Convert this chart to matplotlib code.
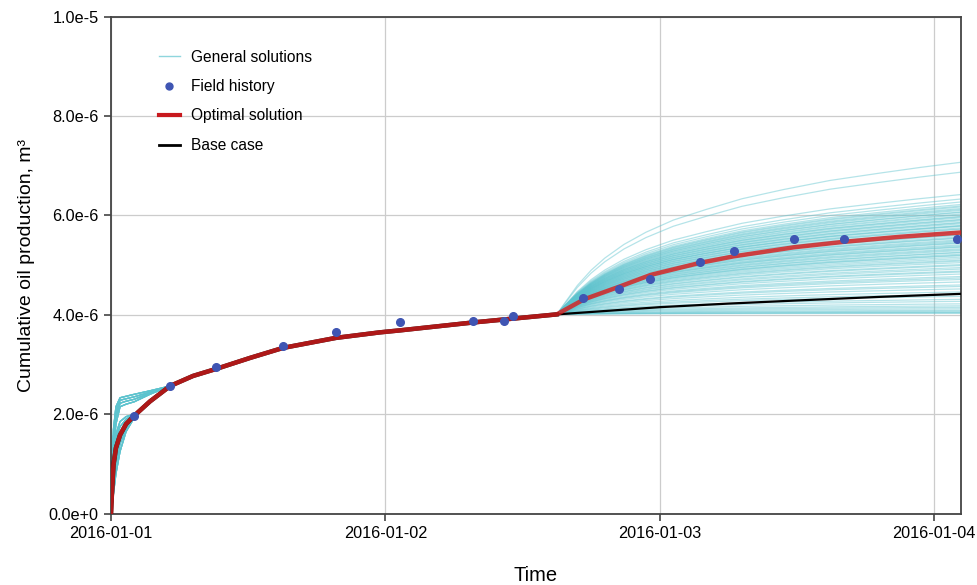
import numpy as np
import matplotlib.pyplot as plt
from matplotlib.lines import Line2D
from matplotlib.ticker import FuncFormatter

plt.rcParams['font.family'] = ['Liberation Sans', 'DejaVu Sans']

# Time in days from 2016-01-01, production in units of 1e-6 m3
date_ticks = [0, 1, 2, 3]
date_labels = ['2016-01-01', '2016-01-02', '2016-01-03', '2016-01-04']

# Field history
hist_days = [0.085, 0.216, 0.384, 0.627, 0.819, 1.055, 1.321, 1.432, 1.467,
             1.722, 1.852, 1.966, 2.146, 2.271, 2.488, 2.671, 3.083]
hist_prod = [1.97, 2.574, 2.951, 3.368, 3.662, 3.847, 3.883, 3.883, 3.978,
             4.334, 4.518, 4.729, 5.065, 5.277, 5.523, 5.523, 5.523]

# Optimal solution (matched history up to the kink, then forecast)
opt_hist_days = [0, 0.004, 0.009, 0.018, 0.033, 0.055, 0.085, 0.142, 0.216,
                 0.299, 0.383, 0.507, 0.627, 0.820, 0.980, 1.053, 1.323, 1.625]
opt_hist_prod = [0, 0.473, 0.977, 1.319, 1.581, 1.803, 1.970, 2.256, 2.568,
                 2.769, 2.910, 3.132, 3.333, 3.535, 3.646, 3.686, 3.847, 4.008]
opt_fore_days = [1.724, 1.851, 1.968, 2.147, 2.270, 2.489, 2.671, 2.875, 3.098]
opt_fore_prod = [4.310, 4.562, 4.804, 5.045, 5.176, 5.358, 5.468, 5.569, 5.656]

# Base case forecast (same history as the optimal run)
base_fore_days = [2.0, 2.25, 2.51, 2.8, 3.098]
base_fore_prod = [4.153, 4.225, 4.29, 4.36, 4.421]

# General solutions: early-time variants before they merge with the history
early_days = [0, 0.004, 0.009, 0.018, 0.033, 0.055, 0.085, 0.142]
early_variants = [
    [0, 0.90, 1.70, 2.15, 2.33, 2.36, 2.40, 2.47],
    [0, 0.80, 1.55, 2.05, 2.28, 2.31, 2.35, 2.44],
    [0, 0.70, 1.40, 1.95, 2.22, 2.26, 2.30, 2.42],
    [0, 0.60, 1.30, 1.80, 2.15, 2.20, 2.25, 2.40],
    [0, 0.60, 1.20, 1.60, 1.85, 1.95, 2.00, 2.256],
    [0, 0.25, 0.60, 1.00, 1.40, 1.72, 1.95, 2.256],
    [0, 0.15, 0.40, 0.80, 1.25, 1.65, 1.93, 2.256],
    [0, 0.35, 0.80, 1.20, 1.50, 1.78, 1.97, 2.256],
    [0, 0.473, 0.977, 1.319, 1.581, 1.803, 1.970, 2.256],
    [0, 0.50, 1.10, 1.50, 1.75, 1.90, 2.00, 2.256],
]

# Forecast shape after the kink (fraction of the final increment)
shape_days = [1.66, 1.70, 1.75, 1.80, 1.87, 1.95, 2.05, 2.17, 2.30, 2.45,
              2.62, 2.80, 2.95, 3.098]
shape_frac = [0.09, 0.19, 0.29, 0.37, 0.46, 0.54, 0.62, 0.69, 0.76, 0.82,
              0.88, 0.928, 0.966, 1.0]

# Production at the end of the forecast for each general solution
gen_end = [7.07, 6.87, 6.42, 6.33, 6.27, 6.22, 6.19, 6.17, 6.14, 6.12, 6.10,
           6.07, 6.06, 6.03, 6.01, 5.98, 5.97, 5.95, 5.92, 5.91, 5.89, 5.86,
           5.85, 5.83, 5.80, 5.79, 5.78, 5.75, 5.73, 5.72, 5.69, 5.67, 5.66,
           5.63, 5.61, 5.60, 5.57, 5.55, 5.54, 5.51, 5.49, 5.47, 5.45, 5.44,
           5.41, 5.39, 5.37, 5.36, 5.33, 5.31, 5.29, 5.26, 5.25, 5.22, 5.20,
           5.19, 5.16, 5.13, 5.10, 5.08, 5.05, 5.01, 4.99, 4.95, 4.92, 4.88,
           4.86, 4.82, 4.77, 4.74, 4.71, 4.66, 4.60, 4.57, 4.52, 4.46, 4.41,
           4.37, 4.31, 4.27, 4.22, 4.18, 4.15, 4.12, 4.09, 4.07, 4.05, 4.04,
           4.03]

fig = plt.figure(figsize=(9.78, 5.85), dpi=100)
ax = fig.add_axes([0.1135, 0.1222, 0.869, 0.8493])

kink = opt_hist_prod[-1]
n_early = len(early_days)
for i, end in enumerate(gen_end):
    days = early_days + opt_hist_days[n_early:] + shape_days
    prod = (early_variants[i % len(early_variants)] + opt_hist_prod[n_early:]
            + [kink + (end - kink) * f for f in shape_frac])
    ax.plot(days, np.array(prod) * 1e-6, color='#5cc3ce', lw=0.9, alpha=0.45,
            zorder=2)

# base case: history runs under the optimal line, forecast drawn thin
ax.plot(opt_hist_days, np.array(opt_hist_prod) * 1e-6, color='black', lw=3.2,
        zorder=3)
base_days = opt_hist_days[-1:] + base_fore_days
base_prod = opt_hist_prod[-1:] + base_fore_prod
ax.plot(base_days, np.array(base_prod) * 1e-6, color='black', lw=1.6, zorder=3)

opt_days = opt_hist_days + opt_fore_days
opt_prod = opt_hist_prod + opt_fore_prod
ax.plot(opt_days, np.array(opt_prod) * 1e-6, color='#d61e1e', lw=3.2,
        alpha=0.82, zorder=4, solid_capstyle='round')

ax.plot(hist_days, np.array(hist_prod) * 1e-6, 'o', color='#3f55b3', ms=5.5,
        zorder=5)

ax.set_xlim(0, 3.098)
ax.set_ylim(0, 1e-5)
ax.set_xticks(date_ticks)
ax.set_xticklabels(date_labels)
ax.set_yticks(np.arange(0, 1.01e-5, 2e-6))


def sci_fmt(v, pos):
    if v == 0:
        return '0.0e+0'
    e = int(np.floor(np.log10(abs(v)) + 1e-9))
    return f'{v / 10 ** e:.1f}e{e:+d}'


ax.yaxis.set_major_formatter(FuncFormatter(sci_fmt))
ax.grid(True, color='#cccccc', lw=0.9)
ax.set_axisbelow(True)
for s in ax.spines.values():
    s.set_color('#444444')
    s.set_linewidth(1.3)
ax.tick_params(labelsize=11.7, length=5, width=1.2, color='#444444', pad=4)
ax.set_xlabel('Time', fontsize=14.5, labelpad=18)
ax.set_ylabel('Cumulative oil production, m³', fontsize=14, labelpad=10)

handles = [
    Line2D([], [], color='#8fd6dd', lw=1),
    Line2D([], [], marker='o', ls='none', color='#3f55b3', ms=5),
    Line2D([], [], color='#c8191e', lw=3),
    Line2D([], [], color='black', lw=2),
]
labels = ['General solutions', 'Field history', 'Optimal solution', 'Base case']
ax.legend(handles, labels, loc='upper left', bbox_to_anchor=(0.04, 0.962),
          frameon=False, fontsize=11.2, handlelength=1.35, handletextpad=0.72,
          labelspacing=0.93)

fig.savefig('out.png', dpi=100)
